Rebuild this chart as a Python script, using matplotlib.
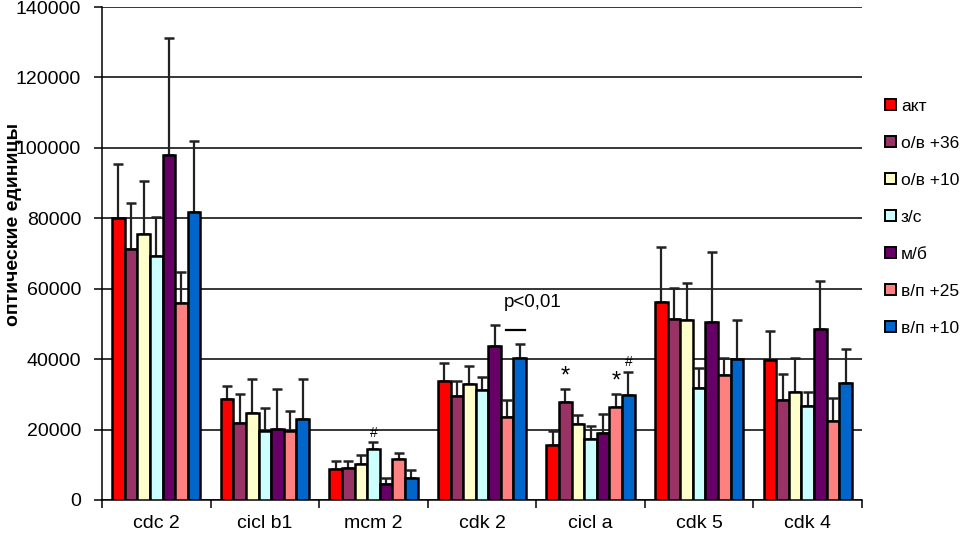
import numpy as np
import matplotlib
matplotlib.use("Agg")
from matplotlib import pyplot as plt
from matplotlib.patches import Patch

plt.rcParams['font.family'] = ['Liberation Sans', 'DejaVu Sans']

categories = ["cdc 2", "cicl b1", "mcm 2", "cdk 2", "cicl a", "cdk 5", "cdk 4"]
series = ["акт", "о/в +36", "о/в +10", "з/с", "м/б", "в/п +25", "в/п +10"]
colors = ["#FF0000", "#993366", "#FFFFCC", "#CCFFFF", "#660066", "#FF8080", "#0066CC"]

# mean values, one list per series (across categories)
akt = [80200, 28800, 8900, 33900, 15700, 56300, 39800]
ov36 = [71200, 22000, 9200, 29600, 27900, 51500, 28400]
ov10 = [75400, 24800, 10300, 33000, 21700, 51200, 30800]
zs = [69300, 19500, 14600, 31200, 17400, 31900, 26800]
mb = [98100, 20200, 4400, 43800, 19100, 50600, 48600]
vp25 = [56000, 19500, 11500, 23700, 26500, 35600, 22400]
vp10 = [81700, 23000, 6300, 40200, 29900, 40100, 33200]

# upper error (top of whisker minus mean)
akt_err = [15300, 3600, 2300, 5100, 3800, 15500, 8300]
ov36_err = [13000, 8200, 1800, 4300, 3700, 8800, 7500]
ov10_err = [15300, 9500, 2600, 5100, 2300, 10500, 9600]
zs_err = [11200, 6700, 1800, 3800, 3700, 5700, 4000]
mb_err = [33200, 11200, 1700, 6000, 5400, 19900, 13700]
vp25_err = [8800, 5800, 1800, 4600, 3700, 4800, 6600]
vp10_err = [20300, 11300, 2100, 4200, 6500, 11100, 9800]

values = [akt, ov36, ov10, zs, mb, vp25, vp10]
errors = [akt_err, ov36_err, ov10_err, zs_err, mb_err, vp25_err, vp10_err]

# significance marks: (category index, series index, mark)
marks = [(2, 3, "#"), (4, 1, "*"), (4, 5, "*"), (4, 6, "#")]

fig = plt.figure(figsize=(9.64, 5.39), dpi=100)
ax = fig.add_axes([0.1058, 0.0724, 0.7884, 0.9146])

x = np.arange(len(categories))
w = 0.116
for j in range(len(series)):
    pos = x + (j - 3) * w
    ax.bar(pos, values[j], w, color=colors[j], edgecolor="black",
           linewidth=1.8, zorder=3)
    ax.errorbar(pos, values[j], yerr=[np.zeros(len(x)), errors[j]],
                fmt="none", ecolor="#222222", elinewidth=1.6, capsize=3.6,
                capthick=1.8, zorder=2)

for ci, sj, m in marks:
    top = values[sj][ci] + errors[sj][ci]
    px = ci + (sj - 3) * w
    if m == "*":
        ax.text(px, top + 300, m, ha="center", va="bottom", fontsize=17)
    else:
        ax.text(px, top + 700, m, ha="center", va="bottom", fontsize=10)

# p<0,01 between м/б and в/п +10 in cdk 2
ax.text(3.47, 53800, "p<0,01", ha="center", va="bottom", fontsize=13.5)
ax.plot([3 + 1.88 * w, 3 + 3.45 * w], [48300, 48300], color="black", lw=1.6)

ax.set_xlim(-0.5, 6.5)
ax.set_ylim(0, 140000)
ax.set_yticks(np.arange(0, 140001, 20000))
ax.yaxis.grid(True, color="black", linewidth=1.1)
ax.set_axisbelow(True)
for s in ["top", "right"]:
    ax.spines[s].set_visible(False)
ax.spines["left"].set_linewidth(1.1)
ax.spines["bottom"].set_linewidth(1.1)

ax.set_xticks(x)
ax.set_xticklabels(categories, fontsize=14)
ax.tick_params(axis="x", length=0, pad=11)
ax.set_xticks(np.arange(-0.5, 7, 1), minor=True)
ax.tick_params(axis="x", which="minor", length=6, width=1.1)
ax.tick_params(axis="y", labelsize=14, length=6, width=1.1, pad=9)

fig.text(0.0135, 0.584, "оптические единицы", rotation=90, ha="center",
         va="center", fontsize=14, fontweight="bold")

handles = [Patch(facecolor=c, edgecolor="black", linewidth=1.4) for c in colors]
fig.legend(handles, series, loc="upper left", bbox_to_anchor=(0.911, 0.83),
           frameon=False, fontsize=12.5, handlelength=0.6, handleheight=0.6,
           handletextpad=0.3, labelspacing=1.27, borderaxespad=0)

fig.savefig("out.png", dpi=100)
